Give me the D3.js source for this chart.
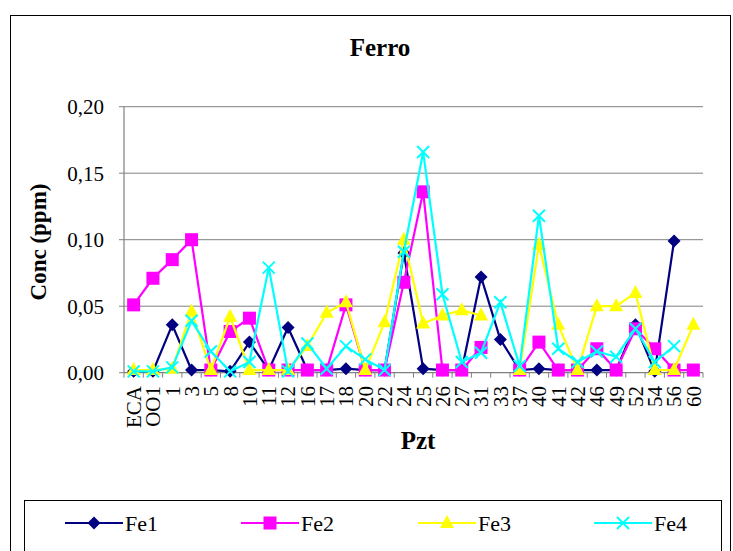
<!DOCTYPE html>
<html>
<head>
<meta charset="utf-8">
<script src="https://cdn.jsdelivr.net/npm/d3@7"></script>
<style>
  body { margin: 0; background: #fff; }
  svg text { font-family: "Times New Roman", "Liberation Serif", "DejaVu Serif", serif; }
</style>
</head>
<body>
<svg id="chart" width="733" height="551"></svg>
<script>
// categories (Pzt)
var pzt = ["ECA", "OO1", "1", "3", "5", "8", "10", "11", "12", "16", "17", "18", "20", "22", "24",
    "25", "26", "27", "31", "33", "37", "40", "41", "42", "46", "49", "52", "54", "56", "60"];

// series values (null = no point)
var fe1 = [0.001, 0.001, 0.036, 0.002, 0.002, 0.001, 0.023, 0.002, 0.034, 0.002, 0.002, 0.003, 0.002, 0.002, 0.090,
    0.003, 0.002, 0.002, 0.072, 0.025, 0.002, 0.003, 0.002, 0.002, 0.002, 0.002, 0.036, 0.001, 0.099, null];
var fe2 = [0.051, 0.071, 0.085, 0.100, 0.002, 0.031, 0.041, 0.002, 0.002, 0.002, 0.002, 0.051, 0.002, 0.002, 0.068,
    0.136, 0.002, 0.002, 0.019, null, 0.002, 0.023, 0.002, 0.002, 0.018, 0.002, 0.033, 0.018, 0.002, 0.002];
var fe3 = [0.002, 0.002, 0.003, 0.046, 0.002, 0.042, 0.002, 0.002, 0.002, 0.020, 0.045, 0.053, 0.002, 0.038, 0.100,
    0.037, 0.043, 0.047, 0.043, null, 0.002, 0.096, 0.036, 0.002, 0.050, 0.050, 0.060, 0.002, 0.002, 0.036];
var fe4 = [0.001, 0.001, 0.004, 0.039, 0.016, 0.001, 0.008, 0.079, 0.001, 0.022, 0.003, 0.020, 0.010, 0.002, 0.091,
    0.166, 0.059, 0.008, 0.015, 0.053, 0.005, 0.118, 0.018, 0.008, 0.016, 0.012, 0.033, 0.008, 0.020, null];

var yTicks = [0, 0.05, 0.10, 0.15, 0.20];

var series = [
    {name: "Fe1", values: fe1, color: "#000080", marker: "diamond"},
    {name: "Fe2", values: fe2, color: "#ff00ff", marker: "square"},
    {name: "Fe3", values: fe3, color: "#ffff00", marker: "triangle"},
    {name: "Fe4", values: fe4, color: "#00ffff", marker: "x"}
];

var svg = d3.select("#chart");

// outer chart frame
svg.append("rect")
    .attr("x", 10.5).attr("y", 15.5)
    .attr("width", 720).attr("height", 560)
    .attr("fill", "none").attr("stroke", "#000").attr("stroke-width", 1);

var x = d3.scaleBand().domain(pzt).range([124, 703]);
var y = d3.scaleLinear().domain([0, 0.2]).range([372.7, 106.7]);
var cx = d => x(d) + x.bandwidth() / 2;

// gridlines
svg.append("g").selectAll("line")
    .data(yTicks.slice(1))
    .enter().append("line")
    .attr("x1", 124).attr("x2", 703)
    .attr("y1", d => y(d)).attr("y2", d => y(d))
    .attr("stroke", "#808080").attr("stroke-width", 1);

// y axis
var yAxis = svg.append("g");
yAxis.append("line")
    .attr("x1", 124).attr("x2", 124)
    .attr("y1", y(0.2)).attr("y2", y(0))
    .attr("stroke", "#808080").attr("stroke-width", 1.2);
yAxis.selectAll(".tk").data(yTicks).enter().append("line")
    .attr("x1", 119).attr("x2", 124)
    .attr("y1", d => y(d)).attr("y2", d => y(d))
    .attr("stroke", "#808080");
yAxis.selectAll("text").data(yTicks).enter().append("text")
    .attr("x", 104).attr("y", d => y(d))
    .attr("dy", "0.35em")
    .attr("text-anchor", "end")
    .attr("font-size", 21)
    .text(d => d3.format(".2f")(d).replace(".", ","));

// x axis
var xAxis = svg.append("g");
xAxis.append("line")
    .attr("x1", 124).attr("x2", 703)
    .attr("y1", y(0)).attr("y2", y(0))
    .attr("stroke", "#808080").attr("stroke-width", 1.2);
xAxis.selectAll(".tk").data(pzt.concat(["end"])).enter().append("line")
    .attr("x1", (d, i) => 124 + i * x.bandwidth())
    .attr("x2", (d, i) => 124 + i * x.bandwidth())
    .attr("y1", y(0)).attr("y2", y(0) + 5)
    .attr("stroke", "#808080");
xAxis.selectAll("text").data(pzt).enter().append("text")
    .attr("transform", d => "translate(" + cx(d) + "," + 386 + ") rotate(-90)")
    .attr("dy", "0.35em")
    .attr("text-anchor", "end")
    .attr("font-size", 21)
    .text(d => d);

// titles
svg.append("text")
    .attr("x", 380).attr("y", 56)
    .attr("text-anchor", "middle")
    .attr("font-size", 25).attr("font-weight", "bold")
    .text("Ferro");
svg.append("text")
    .attr("x", 418).attr("y", 449)
    .attr("text-anchor", "middle")
    .attr("font-size", 25).attr("font-weight", "bold")
    .text("Pzt");
svg.append("text")
    .attr("transform", "translate(46,242) rotate(-90)")
    .attr("text-anchor", "middle")
    .attr("font-size", 23).attr("font-weight", "bold")
    .text("Conc (ppm)");

// marker drawing
function drawMarker(g, type, color) {
    if (type == "diamond") {
        g.append("path").attr("d", "M0,-6.5L6.5,0L0,6.5L-6.5,0Z").attr("fill", color);
    } else if (type == "square") {
        g.append("rect").attr("x", -6.5).attr("y", -6.5).attr("width", 13).attr("height", 13).attr("fill", color);
    } else if (type == "triangle") {
        g.append("path").attr("d", "M0,-8L7,5L-7,5Z").attr("fill", color);
    } else {
        g.append("path").attr("d", "M-6,-6L6,6M-6,6L6,-6")
            .attr("stroke", color).attr("stroke-width", 2).attr("fill", "none");
    }
}

var line = d3.line()
    .defined(d => d.v != null)
    .x(d => cx(d.c))
    .y(d => y(d.v));

series.forEach(function (s) {
    var pts = pzt.map((c, i) => ({c: c, v: s.values[i]}));
    svg.append("path")
        .datum(pts)
        .attr("d", line)
        .attr("fill", "none")
        .attr("stroke", s.color)
        .attr("stroke-width", 2.2);
    svg.append("g").selectAll("g")
        .data(pts.filter(d => d.v != null))
        .enter().append("g")
        .attr("transform", d => "translate(" + cx(d.c) + "," + y(d.v) + ")")
        .each(function () { drawMarker(d3.select(this), s.marker, s.color); });
});

// legend
svg.append("rect")
    .attr("x", 24.5).attr("y", 500.5)
    .attr("width", 697).attr("height", 70)
    .attr("fill", "#fff").attr("stroke", "#000").attr("stroke-width", 1);

var legendX = [65, 241, 418, 594];
series.forEach(function (s, i) {
    var lg = svg.append("g").attr("transform", "translate(" + legendX[i] + ",523)");
    lg.append("line").attr("x1", 0).attr("x2", 58).attr("y1", 0).attr("y2", 0)
        .attr("stroke", s.color).attr("stroke-width", 2.2);
    drawMarker(lg.append("g").attr("transform", "translate(29,0)"), s.marker, s.color);
    lg.append("text").attr("x", 60).attr("y", 0).attr("dy", "0.35em")
        .attr("font-size", 22).text(s.name);
});
</script>
</body>
</html>
